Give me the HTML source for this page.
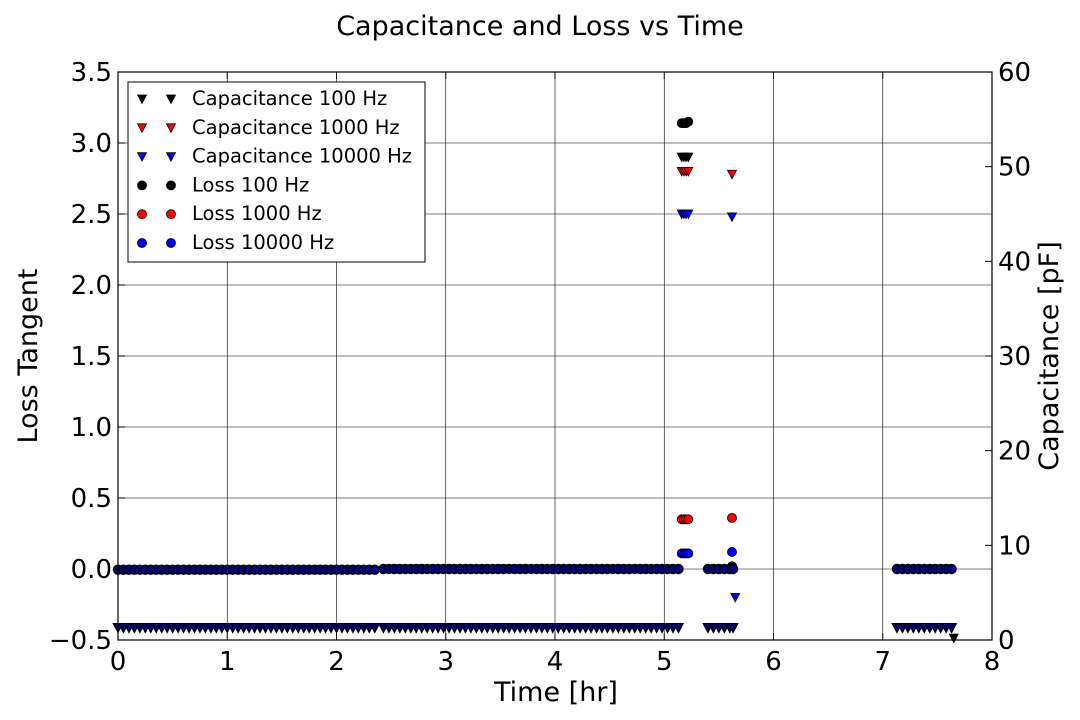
<!DOCTYPE html>
<html><head><meta charset="utf-8"><style>
html,body{margin:0;padding:0;background:#fff;}
svg{display:block;font-family:"DejaVu Sans","Liberation Sans",sans-serif;}
</style></head><body>
<svg id="chart" width="1080" height="720">
<text x="540" y="35" text-anchor="middle" font-size="27">Capacitance and Loss vs Time</text>
<g id="grid"></g>
<g id="marks"></g>
<rect x="118" y="72" width="874" height="568" fill="none" stroke="#000" stroke-width="1.2"/>
<g id="axes"></g>
<text x="556" y="701" text-anchor="middle" font-size="27">Time [hr]</text>
<text transform="translate(37,356) rotate(-90)" text-anchor="middle" font-size="27">Loss Tangent</text>
<text transform="translate(1058,356) rotate(-90)" text-anchor="middle" font-size="27">Capacitance [pF]</text>
<g id="legend"></g>
</svg>
<script>
const xTicks=[0,1,2,3,4,5,6,7,8];
const lossTicks=[-0.5,0.0,0.5,1.0,1.5,2.0,2.5,3.0,3.5];
const lossTickLabels=["\u22120.5","0.0","0.5","1.0","1.5","2.0","2.5","3.0","3.5"];
const capTicks=[0,10,20,30,40,50,60];
const tDense=[0,0.05,0.1,0.15,0.2,0.25,0.3,0.35,0.4,0.45,0.5,0.55,0.6,0.65,0.7,0.75,0.8,0.85,0.9,0.95,1.0,1.05,1.1,1.15,1.2,1.25,1.3,1.35,1.4,1.45,1.5,1.55,1.6,1.65,1.7,1.75,1.8,1.85,1.9,1.95,2.0,2.05,2.1,2.15,2.2,2.25,2.3,2.35,
2.43,2.48,2.53,2.58,2.63,2.68,2.73,2.78,2.83,2.88,2.93,2.98,3.03,3.08,3.13,3.18,3.23,3.28,3.33,3.38,3.43,3.48,3.53,3.58,3.63,3.68,3.73,3.78,3.83,3.88,3.93,3.98,4.03,4.08,4.13,4.18,4.23,4.28,4.33,4.38,4.43,4.48,4.53,4.58,4.63,4.68,4.73,4.78,4.83,4.88,4.93,4.98,5.03,5.08,5.13,
5.4,5.45,5.5,5.55,5.6,5.63,
7.13,7.18,7.23,7.28,7.33,7.38,7.43,7.48,7.53,7.58,7.63];
const capDense=tDense.map(()=>1.3);
const lossDense=tDense.map(t=>t<2.4?-0.005:0.0);
const cap100T=[5.16,5.18,5.2,5.22,7.65];
const cap100V=[51,51,51,51,0.2];
const cap1000T=[5.16,5.18,5.2,5.22,5.62];
const cap1000V=[49.5,49.5,49.5,49.5,49.2];
const cap10000T=[5.16,5.18,5.2,5.22,5.62,5.65];
const cap10000V=[45,45,45,45,44.7,4.5];
const loss100T=[5.16,5.18,5.2,5.22,5.62];
const loss100V=[3.14,3.14,3.14,3.15,0.02];
const loss1000T=[5.16,5.18,5.2,5.22,5.62];
const loss1000V=[0.35,0.35,0.35,0.35,0.36];
const loss10000T=[5.16,5.18,5.2,5.22,5.62];
const loss10000V=[0.11,0.11,0.11,0.11,0.12];

const NS="http://www.w3.org/2000/svg";
const L=118,R=992,T=72,B=640;
const X=v=>L+(v-0)/8*(R-L);
const YL=v=>B-(v+0.5)/4*(B-T);
const YR=v=>B-v/60*(B-T);
function mk(tag,attrs,parent){const e=document.createElementNS(NS,tag);for(const k in attrs)e.setAttribute(k,attrs[k]);parent.appendChild(e);return e;}
const grid=document.getElementById('grid'),axes=document.getElementById('axes'),marks=document.getElementById('marks'),legend=document.getElementById('legend');
xTicks.forEach(v=>{
 const gl=mk('line',{x1:X(v),x2:X(v),y1:T,y2:B,stroke:'#000','stroke-width':0.6},grid);
 
 mk('line',{x1:X(v),x2:X(v),y1:B,y2:B-7,stroke:'#000'},axes);
 mk('line',{x1:X(v),x2:X(v),y1:T,y2:T+7,stroke:'#000'},axes);
 const t=mk('text',{x:X(v),y:B+30,'text-anchor':'middle','font-size':26},axes);t.textContent=v;
 
});
lossTicks.forEach((v,i)=>{
 const gl=mk('line',{x1:L,x2:R,y1:YL(v),y2:YL(v),stroke:'#000','stroke-width':0.6},grid);
 
 mk('line',{x1:L,x2:L+7,y1:YL(v),y2:YL(v),stroke:'#000'},axes);
 const t=mk('text',{x:L-6,y:YL(v)+9,'text-anchor':'end','font-size':26},axes);t.textContent=lossTickLabels[i];
 
});
capTicks.forEach(v=>{
 mk('line',{x1:R,x2:R-7,y1:YR(v),y2:YR(v),stroke:'#000'},axes);
 const t=mk('text',{x:R+6,y:YR(v)+9,'text-anchor':'start','font-size':26},axes);t.textContent=v;
 
});
function tri(x,y,c,p,name,sw){const e=mk('polygon',{points:`${x-4.5},${y-4} ${x+4.5},${y-4} ${x},${y+4.5}`,fill:c,stroke:'#000','stroke-width':sw||0.8},p);
 return e;}
function dot(x,y,c,p,name,sw){const e=mk('circle',{cx:x,cy:y,r:4.5,fill:c,stroke:'#000','stroke-width':sw||0.8},p);
 return e;}
function capSeries(ts,vs,c,name,sw){ts.forEach((t,i)=>tri(X(t),YR(vs[i]),c,marks,name,sw));}
function lossSeries(ts,vs,c,name,sw){ts.forEach((t,i)=>dot(X(t),YL(vs[i]),c,marks,name,sw));}
capSeries(tDense,capDense,'#000','cap-100hz-point');
capSeries(cap100T,cap100V,'#000','cap-100hz-point');
capSeries(cap1000T,cap1000V,'#f00','cap-1000hz-point');
capSeries(cap10000T,cap10000V,'#00f','cap-10000hz-point');
capSeries(tDense,capDense,'#000080','cap-10000hz-point',1.4);
lossSeries(loss100T,loss100V,'#000','loss-100hz-point');
lossSeries(loss1000T,loss1000V,'#f00','loss-1000hz-point');
lossSeries(tDense,lossDense,'#000080','loss-10000hz-point',1.4);
lossSeries(loss10000T,loss10000V,'#00f','loss-10000hz-point');
// legend
const lb=mk('rect',{x:128,y:82,width:297,height:180,fill:'#fff',stroke:'#000','stroke-width':1},legend);

const entries=[["Capacitance 100 Hz",'#000','t'],["Capacitance 1000 Hz",'#f00','t'],["Capacitance 10000 Hz",'#00f','t'],["Loss 100 Hz",'#000','c'],["Loss 1000 Hz",'#f00','c'],["Loss 10000 Hz",'#00f','c']];
entries.forEach((e,i)=>{
 const y=99+i*28.8;
 const g=mk('g',{},legend);
 [142,171].forEach(x=>{ if(e[2]=='t') tri(x,y,e[1],g,'legend-marker'); else dot(x,y,e[1],g,'legend-marker');});
 const t=mk('text',{x:192,y:y+6,'font-size':19.5},g);t.textContent=e[0];
 
});
</script>
</body></html>
